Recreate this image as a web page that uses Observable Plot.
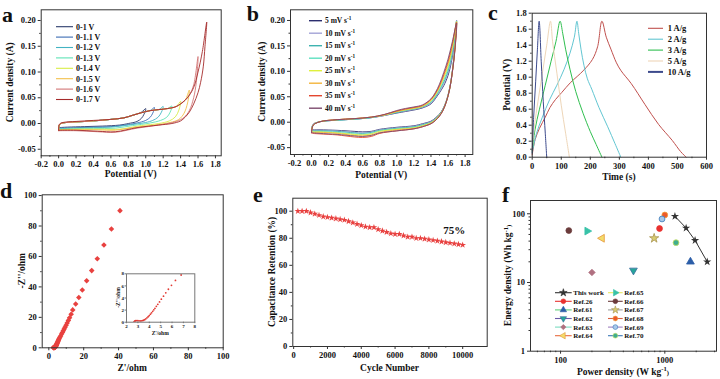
<!DOCTYPE html>
<html><head><meta charset="utf-8">
<script src="https://cdn.jsdelivr.net/npm/d3@7"></script>
<script src="https://cdn.jsdelivr.net/npm/@observablehq/plot@0.6"></script>
<style>
html,body{margin:0;padding:0;background:#fff;}
#root{position:relative;width:720px;height:379px;overflow:hidden;background:#fff;}
</style></head><body><div id="root"></div>
<script>
// ================= DATA =================
// Panel a : CV at different potential windows  [V, A]
const aLabels = ["0-1 V","0-1.1 V","0-1.2 V","0-1.3 V","0-1.4 V","0-1.5 V","0-1.6 V","0-1.7 V"];
const aColors = ["#2b3a6b","#3b6bb3","#43b3c3","#5de3b5","#d8ec45","#f2c04a","#d27575","#a52a2a"];
const aCV10 = [[0,-0.008],[0.01,-0.002],[0.05,0.001],[0.2,0.003],[0.4,0.005],[0.6,0.008],[0.75,0.011],[0.85,0.016],[0.95,0.022],[1.0,0.029],[0.98,0.018],[0.95,0.010],[0.9,0.004],[0.8,0.000],[0.7,-0.003],[0.5,-0.005],[0.3,-0.006],[0.1,-0.007],[0,-0.008]];
const aCV11 = [[0,-0.009],[0.01,-0.002],[0.05,0.001],[0.2,0.003],[0.4,0.005],[0.6,0.008],[0.75,0.011],[0.85,0.016],[0.95,0.021],[1.05,0.025],[1.1,0.031],[1.08,0.020],[1.05,0.012],[1.0,0.006],[0.9,0.001],[0.8,-0.002],[0.6,-0.006],[0.4,-0.007],[0.2,-0.008],[0,-0.009]];
const aCV12 = [[0,-0.010],[0.01,-0.002],[0.05,0.001],[0.2,0.003],[0.4,0.005],[0.6,0.008],[0.75,0.011],[0.85,0.016],[0.95,0.021],[1.05,0.025],[1.15,0.027],[1.2,0.033],[1.18,0.022],[1.14,0.012],[1.08,0.006],[1.0,0.002],[0.8,-0.003],[0.6,-0.007],[0.4,-0.008],[0.2,-0.009],[0,-0.010]];
const aCV13 = [[0,-0.011],[0.01,-0.002],[0.05,0.001],[0.2,0.003],[0.4,0.005],[0.6,0.008],[0.75,0.011],[0.85,0.016],[0.95,0.021],[1.05,0.025],[1.15,0.027],[1.25,0.029],[1.3,0.034],[1.28,0.022],[1.24,0.012],[1.17,0.006],[1.05,0.001],[0.85,-0.004],[0.65,-0.009],[0.4,-0.010],[0.2,-0.010],[0,-0.011]];
const aCV14 = [[0,-0.012],[0.01,-0.002],[0.05,0.001],[0.2,0.003],[0.4,0.005],[0.6,0.008],[0.75,0.011],[0.85,0.016],[0.95,0.021],[1.05,0.025],[1.15,0.027],[1.25,0.029],[1.35,0.033],[1.4,0.043],[1.38,0.026],[1.34,0.013],[1.27,0.005],[1.15,0.000],[0.95,-0.004],[0.7,-0.011],[0.5,-0.011],[0.2,-0.011],[0,-0.012]];
const aCV15 = [[0,-0.013],[0.01,-0.002],[0.05,0.001],[0.2,0.003],[0.4,0.005],[0.6,0.008],[0.75,0.011],[0.85,0.016],[0.95,0.021],[1.05,0.025],[1.15,0.027],[1.25,0.029],[1.35,0.033],[1.45,0.045],[1.5,0.065],[1.48,0.040],[1.44,0.020],[1.38,0.008],[1.28,0.002],[1.1,-0.003],[0.85,-0.008],[0.65,-0.013],[0.4,-0.012],[0.2,-0.012],[0,-0.013]];
const aCV16 = [[0,-0.014],[0.01,-0.002],[0.05,0.001],[0.2,0.003],[0.4,0.005],[0.6,0.008],[0.75,0.011],[0.85,0.016],[0.95,0.021],[1.05,0.025],[1.15,0.027],[1.25,0.029],[1.35,0.033],[1.45,0.045],[1.5,0.055],[1.55,0.075],[1.6,0.130],[1.58,0.080],[1.55,0.050],[1.5,0.025],[1.44,0.012],[1.35,0.004],[1.15,-0.003],[0.9,-0.009],[0.65,-0.017],[0.45,-0.016],[0.2,-0.014],[0,-0.014]];
const aCV17 = [[0,-0.013],[0.01,-0.001],[0.05,0.002],[0.2,0.004],[0.4,0.006],[0.6,0.008],[0.75,0.011],[0.85,0.016],[0.95,0.021],[1.05,0.025],[1.15,0.027],[1.25,0.029],[1.35,0.033],[1.45,0.045],[1.5,0.055],[1.55,0.070],[1.6,0.100],[1.65,0.140],[1.7,0.197],[1.68,0.150],[1.66,0.110],[1.63,0.080],[1.6,0.060],[1.55,0.038],[1.5,0.022],[1.45,0.012],[1.4,0.005],[1.3,0.000],[1.15,-0.003],[0.9,-0.008],[0.65,-0.016],[0.45,-0.015],[0.2,-0.013],[0,-0.013]];
const aCurves = [aCV10,aCV11,aCV12,aCV13,aCV14,aCV15,aCV16,aCV17];
const aXTicks = [-0.2,0,0.2,0.4,0.6,0.8,1.0,1.2,1.4,1.6,1.8];
const aXMinor = [-0.1,0.1,0.3,0.5,0.7,0.9,1.1,1.3,1.5,1.7];
const aYTicks = [-0.05,0,0.05,0.10,0.15,0.20];
const aYMinor = [-0.025,0.025,0.075,0.125,0.175];

// Panel b : CV at different scan rates (shared potential grid, currents per rate)
const bRates = [5,10,15,20,25,30,35,40];
const bColors = ["#2b2d6e","#a3a3d6","#3fb3b0","#5ee0c0","#dff03c","#f3b43a","#e4462e","#7d4b6e"];
const bV = [0,0.02,0.1,0.3,0.5,0.7,0.85,1.0,1.1,1.2,1.3,1.4,1.45,1.5,1.55,1.6,1.65,1.7,1.68,1.65,1.62,1.58,1.54,1.5,1.45,1.4,1.3,1.2,1.0,0.8,0.7,0.6,0.5,0.3,0.1,0.02,0];
const b5  = [-0.014,-0.004,0.001,0.004,0.006,0.009,0.013,0.018,0.021,0.024,0.028,0.036,0.046,0.058,0.072,0.092,0.128,0.200,0.150,0.100,0.068,0.042,0.026,0.016,0.008,0.002,-0.003,-0.007,-0.010,-0.014,-0.018,-0.019,-0.018,-0.016,-0.015,-0.015,-0.014];
const b10 = [-0.015,-0.004,0.001,0.004,0.006,0.009,0.013,0.019,0.022,0.025,0.029,0.037,0.048,0.060,0.076,0.097,0.132,0.200,0.149,0.100,0.068,0.042,0.025,0.015,0.007,0.001,-0.004,-0.008,-0.011,-0.015,-0.019,-0.021,-0.020,-0.017,-0.016,-0.016,-0.015];
const b15 = [-0.016,-0.005,0.001,0.004,0.006,0.009,0.014,0.019,0.023,0.026,0.030,0.039,0.049,0.063,0.079,0.101,0.137,0.199,0.148,0.099,0.067,0.041,0.025,0.015,0.006,0.000,-0.005,-0.009,-0.012,-0.016,-0.020,-0.022,-0.021,-0.018,-0.017,-0.017,-0.016];
const b20 = [-0.017,-0.005,0.001,0.004,0.006,0.009,0.014,0.020,0.024,0.027,0.031,0.040,0.051,0.065,0.083,0.106,0.141,0.198,0.146,0.099,0.067,0.041,0.024,0.014,0.005,-0.001,-0.006,-0.010,-0.013,-0.017,-0.022,-0.024,-0.023,-0.020,-0.018,-0.018,-0.017];
const b25 = [-0.018,-0.005,0.001,0.005,0.007,0.010,0.014,0.021,0.024,0.027,0.031,0.042,0.053,0.068,0.087,0.110,0.145,0.198,0.145,0.099,0.067,0.041,0.024,0.014,0.005,-0.001,-0.007,-0.011,-0.014,-0.018,-0.023,-0.025,-0.024,-0.021,-0.019,-0.019,-0.018];
const b30 = [-0.019,-0.006,0.001,0.005,0.007,0.010,0.014,0.021,0.025,0.028,0.032,0.043,0.055,0.070,0.091,0.115,0.149,0.197,0.143,0.098,0.066,0.040,0.023,0.013,0.004,-0.002,-0.008,-0.012,-0.015,-0.020,-0.025,-0.027,-0.026,-0.022,-0.020,-0.020,-0.019];
const b35 = [-0.021,-0.006,0.001,0.005,0.007,0.010,0.015,0.022,0.026,0.029,0.033,0.045,0.056,0.072,0.094,0.119,0.154,0.196,0.142,0.098,0.066,0.040,0.023,0.012,0.003,-0.003,-0.009,-0.013,-0.017,-0.022,-0.028,-0.030,-0.029,-0.025,-0.023,-0.022,-0.021];
const b40 = [-0.020,-0.006,0.001,0.005,0.007,0.010,0.015,0.023,0.027,0.030,0.034,0.046,0.058,0.075,0.098,0.124,0.158,0.195,0.140,0.098,0.066,0.040,0.023,0.012,0.003,-0.003,-0.009,-0.013,-0.017,-0.021,-0.026,-0.028,-0.027,-0.024,-0.022,-0.021,-0.020];
const bCurves = [b5,b10,b15,b20,b25,b30,b35,b40];

// Panel c : GCD curves [time s, potential V]
const cLabels = ["1 A/g","2 A/g","3 A/g","5 A/g","10 A/g"];
const cColors = ["#c0504d","#62c6d2","#2fbf4f","#eed6b8","#3c4a8c"];
const c1  = [[0,0.03],[10,0.22],[25,0.36],[45,0.5],[61,0.62],[80,0.72],[102,0.81],[131,0.93],[155,1.01],[178,1.09],[207,1.22],[225,1.38],[240,1.7],[255,1.5],[271,1.35],[290,1.18],[306,1.08],[341,0.92],[388,0.66],[435,0.41],[482,0.21],[511,0.07],[530,0]];
const c2  = [[0,0.06],[15,0.3],[35,0.5],[60,0.72],[85,0.9],[110,1.1],[130,1.3],[145,1.5],[154,1.7],[160,1.55],[168,1.35],[178,1.15],[190,0.98],[205,0.85],[230,0.62],[260,0.38],[285,0.17],[305,0]];
const c3  = [[0,0.08],[10,0.35],[25,0.6],[45,0.9],[65,1.2],[82,1.45],[96,1.7],[105,1.55],[115,1.35],[130,1.1],[150,0.82],[175,0.55],[200,0.32],[220,0.16],[240,0]];
const c5  = [[0,0.1],[8,0.4],[20,0.7],[35,1.05],[50,1.4],[63,1.7],[70,1.45],[85,1.05],[100,0.65],[115,0.3],[128,0]];
const c10 = [[0,0.05],[5,0.5],[12,0.95],[18,1.35],[24,1.7],[31,1.2],[38,0.7],[45,0.3],[50,0]];
const cCurves = [c1,c2,c3,c5,c10];

// Panel d : Nyquist plot
const dZre = [2.65,2.7,2.75,2.8,2.9,3.0,3.1,3.2,3.3,3.4,3.5,3.6,3.7,3.8,3.9,4.0,4.1,4.2,4.3,4.4,4.5,4.62,4.75,4.9,5.06,5.25,5.45,5.68,5.95,6.3,6.8,7.3,7.8,8.3,8.8,9.3,9.9,10.5,11.2,11.9,12.8,13.7,15.4,17.2,19.2,21.7,24.6,27.8,31.6,35.9,40.8];
const dZim = [0.05,0.15,0.2,0.24,0.26,0.25,0.22,0.2,0.21,0.25,0.32,0.42,0.56,0.72,0.9,1.1,1.32,1.55,1.8,2.05,2.3,2.62,2.95,3.35,3.8,4.3,4.85,5.45,6.1,6.9,7.8,9.0,10.1,11.2,12.3,13.5,14.8,16.3,18.0,19.8,22.0,24.9,28.8,33.0,38.0,44.0,50.7,58.5,67.5,78.0,90.1];

// Panel e : cycling stability
const eCycle = [250,500,750,1000,1250,1500,1750,2000,2250,2500,2750,3000,3250,3500,3750,4000,4250,4500,4750,5000,5250,5500,5750,6000,6250,6500,6750,7000,7250,7500,7750,8000,8250,8500,8750,9000,9250,9500,9750,10000];
const eRet = [100,100,100,99,98,97,96,95.5,95,94.5,94,93.5,92.5,91.5,90.5,89.5,88.5,88,88,86.5,85.5,84.5,83.5,83,83,82,81,81,80,80,79.5,79,78.5,78,77.5,77,76.5,76,75.5,75];

// Panel f : Ragone plot
const thisPower = [1250,1600,1950,2550];
const thisEnergy = [92,62,41,20];
const fRefs   = ["Ref.26","Ref.61","Ref.62","Ref.63","Ref.64","Ref.65","Ref.66","Ref.67","Ref.68","Ref.69","Ref.70"];
const fPower  = [890,1760,500,200,250,180,120,790,1000,940,1280];
const fEnergy = [61,20,15,14,44,56,57,44,96,84,38];
const fSymbol = ["circle","triangle","triangle","diamond2","triangle","triangle","circle","star","circle","circle","circle"];
const fRotate = [0,0,180,0,-90,90,0,0,0,0,0];
const fFill   = ["#e8312f","#2c5ea8","#26a69a","#b07080","#f3dc6a","#38c2a8","#6b3b3b","#d8cc70","#ec5a2a","#a9c9ea","#3fae8e"];
const fStroke = ["#e8312f","#2c5ea8","#3d6fa0","#b07080","#e6953c","#38c2a8","#6b3b3b","#a89450","#f2a03a","#3a78b8","#c4dc5a"];
const fLine   = ["#e8312f","#5fd07a","#6a5aa8","#7adcc0","#e86a40","#e8e860","#6b3b3b","#a0a0a0","#d86040","#a080c0","#3a78b8"];

// ================= RENDER =================
const FONT = "'Liberation Serif','Times New Roman',serif";
const root = document.getElementById("root");
function mount(svg, left, top) {
  svg.style.position = "absolute";
  svg.style.left = left + "px";
  svg.style.top = top + "px";
  svg.style.maxWidth = "none";
  root.appendChild(svg);
}
const baseStyle = {fontFamily: FONT, fontWeight: "bold", fontSize: "8.5px", color: "#111", background: "transparent", overflow: "visible"};

function axes({xt, xm, yt, ym, xf, yf, tick = 3, pad = 2.5, minor = 1.5, frameColor = "#333"}) {
  const m = [
    Plot.frame({stroke: frameColor, strokeWidth: 1}),
    Plot.axisX(xt, {tickSize: tick, tickPadding: pad, tickFormat: xf, label: null, stroke: frameColor}),
    Plot.axisY(yt, {tickSize: tick, tickPadding: pad, tickFormat: yf, label: null, stroke: frameColor})
  ];
  if (xm) m.push(Plot.axisX(xm, {tickSize: minor, fill: "none", label: null, stroke: frameColor}));
  if (ym) m.push(Plot.axisY(ym, {tickSize: minor, fill: "none", label: null, stroke: frameColor}));
  return m;
}

// ---- Panel a ----
const aTable = aCurves.flatMap((pts, k) => pts.map(([v, i]) => ({V: v, I: i, s: aLabels[k]})));
mount(Plot.plot({
  width: 240, height: 185, marginLeft: 40.7, marginRight: 19.3, marginTop: 9.3, marginBottom: 29.7,
  style: baseStyle,
  x: {domain: [-0.2, 1.866]}, y: {domain: [-0.0627, 0.2208]},
  color: {domain: aLabels, range: aColors},
  marks: [
    Plot.line(aTable, {x: "V", y: "I", z: "s", stroke: "s", strokeWidth: 0.9, curve: "catmull-rom"}),
    ...axes({xt: aXTicks, xm: aXMinor, yt: aYTicks, ym: aYMinor, xf: d => d.toFixed(1), yf: d => d.toFixed(2)})
  ]
}), 0, 0);

// ---- Panel b ----
const bLabels = bRates.map(r => r + " mV/s");
const bTable = bCurves.flatMap((vals, k) => vals.map((I, j) => ({V: bV[j], I, s: bLabels[k]})));
mount(Plot.plot({
  width: 240, height: 185, marginLeft: 50, marginRight: 7.7, marginTop: 9.3, marginBottom: 31,
  style: baseStyle,
  x: {domain: [-0.246, 1.89]}, y: {domain: [-0.0635, 0.221]},
  color: {domain: bLabels, range: bColors},
  marks: [
    Plot.line(bTable, {x: "V", y: "I", z: "s", stroke: "s", strokeWidth: 0.9, curve: "catmull-rom"}),
    ...axes({xt: aXTicks, xm: aXMinor, yt: aYTicks, ym: aYMinor, xf: d => d.toFixed(1), yf: d => d.toFixed(2)})
  ]
}), 240, 0);

// ---- Panel c ----
const cTable = cCurves.flatMap((pts, k) => pts.map(([t, v]) => ({t, v, s: cLabels[k]})));
mount(Plot.plot({
  width: 240, height: 185, marginLeft: 51.7, marginRight: 14, marginTop: 12.7, marginBottom: 28.3,
  style: baseStyle,
  x: {domain: [0, 600]}, y: {domain: [0, 1.8]},
  color: {domain: cLabels, range: cColors},
  marks: [
    Plot.line(cTable, {x: "t", y: "v", z: "s", stroke: "s", strokeWidth: 1, curve: "catmull-rom"}),
    ...axes({xt: [0,100,200,300,400,500,600], xm: [50,150,250,350,450,550], yt: [0,0.2,0.4,0.6,0.8,1.0,1.2,1.4,1.6,1.8], ym: [0.1,0.3,0.5,0.7,0.9,1.1,1.3,1.5,1.7],
      xf: d => String(d), yf: d => d.toFixed(1)})
  ]
}), 480, 0);

// ---- Panel d ----
const dTable = dZre.map((x, i) => ({x, y: dZim[i]}));
mount(Plot.plot({
  width: 240, height: 194, marginLeft: 41.7, marginRight: 17.3, marginTop: 9.3, marginBottom: 31.7,
  style: baseStyle,
  x: {domain: [-3.8, 100]}, y: {domain: [0, 100.5]},
  marks: [
    Plot.dot(dTable, {x: "x", y: "y", symbol: "diamond2", r: 2.5, fill: "#e8413f", stroke: "none"}),
    ...axes({xt: [0,20,40,60,80,100], xm: [10,30,50,70,90], yt: [0,20,40,60,80,100], ym: [10,30,50,70,90],
      xf: d => String(d), yf: d => String(d)})
  ]
}), 0, 185);

// inset
mount(Plot.plot({
  width: 100, height: 74, marginLeft: 26, marginRight: 5.7, marginTop: 7.3, marginBottom: 18.3,
  style: {...baseStyle, fontSize: "5px"},
  x: {domain: [2, 8]}, y: {domain: [0, 8]},
  marks: [
    Plot.frame({fill: "white", stroke: "none"}),
    Plot.dot(dTable, {x: "x", y: "y", r: 0.9, fill: "#e23b34", stroke: "none", clip: true}),
    ...axes({xt: [2,3,4,5,6,7,8], yt: [0,2,4,6,8], xf: d => String(d), yf: d => String(d),
      tick: 1.5, pad: 1, frameColor: "#777"})
  ]
}), 100, 266);

// ---- Panel e ----
const eTable = eCycle.map((c, i) => ({c, r: eRet[i]}));
mount(Plot.plot({
  width: 250, height: 194, marginLeft: 52.3, marginRight: 3.3, marginTop: 12.7, marginBottom: 33,
  style: baseStyle,
  x: {domain: [-50, 11450]}, y: {domain: [0, 109.6]},
  marks: [
    Plot.dot(eTable, {x: "c", y: "r", symbol: "star", r: 2.1, fill: "#e8403f", stroke: "none"}),
    Plot.text([eTable[eTable.length - 1]], {x: "c", y: "r", text: d => d.r + "%", dy: -14.5, dx: -8.5, fontSize: 11}),
    ...axes({xt: [0,2000,4000,6000,8000,10000], xm: [1000,3000,5000,7000,9000], yt: [0,20,40,60,80,100], ym: [10,30,50,70,90],
      xf: d => String(d), yf: d => String(d)})
  ]
}), 240, 185);

// ---- Panel f ----
const fTable = fRefs.map((name, i) => ({name, p: fPower[i], e: fEnergy[i], sym: fSymbol[i], rot: fRotate[i], fill: fFill[i], stroke: fStroke[i]}));
const thisTable = thisPower.map((p, i) => ({p, e: thisEnergy[i]}));
mount(Plot.plot({
  width: 230, height: 194, marginLeft: 40, marginRight: 4, marginTop: 15, marginBottom: 28.3,
  style: baseStyle,
  x: {type: "log", domain: [51.5, 3130]}, y: {type: "log", domain: [1, 156]},
  marks: [
    Plot.line(thisTable, {x: "p", y: "e", stroke: "#333", strokeWidth: 1}),
    Plot.dot(thisTable, {x: "p", y: "e", symbol: "star", r: 2.6, fill: "#333", stroke: "none"}),
    Plot.dot(fTable, {x: "p", y: "e", symbol: "sym", rotate: "rot", r: 2.9,
      fill: {value: "fill", scale: null}, stroke: {value: "stroke", scale: null}, strokeWidth: 0.8}),
    ...axes({xt: [100,1000], xm: [60,70,80,90,200,300,400,500,600,700,800,900,2000,3000],
      yt: [1,10,100], ym: [2,3,4,5,6,7,8,9,20,30,40,50,60,70,80,90],
      xf: d => String(d), yf: d => String(d)})
  ]
}), 490, 185);

// ---- overlay: panel letters, axis titles and legends ----
const ov = d3.create("svg").attr("width", 720).attr("height", 379)
  .style("position", "absolute").style("left", "0px").style("top", "0px")
  .style("font-family", FONT).style("font-weight", "bold").style("pointer-events", "none");
[["a", 2, 21.7], ["b", 246.7, 20.5], ["c", 488, 20], ["d", 0, 198.3], ["e", 253, 201.7], ["f", 502, 201.7]]
  .forEach(([t, x, y]) => ov.append("text").attr("x", x).attr("y", y).attr("font-size", 22).attr("fill", "#111").text(t));

function title(parts, x, y, rot, fs) {
  const t = ov.append("text").attr("text-anchor", "middle").attr("dominant-baseline", "central")
    .attr("font-size", fs).attr("fill", "#111")
    .attr("transform", `translate(${x},${y}) rotate(${rot})`);
  parts.forEach(p => {
    if (typeof p === "string") t.append("tspan").text(p);
    else t.append("tspan").attr("font-size", fs * 0.7).attr("dy", p.dy + "em").text(p.t);
  });
}
title(["Potential (V)"], 130.7, 174, 0, 9.5);
title(["Current density (A)"], 10, 82.3, -90, 9.5);
title(["Potential (V)"], 381.2, 174.5, 0, 9.5);
title(["Current density (A)"], 261.7, 81.7, -90, 9.5);
title(["Time (s)"], 618.9, 177, 0, 9.5);
title(["Potential (V)"], 506.7, 84.7, -90, 9.5);
title(["Z'/ohm"], 132.2, 368, 0, 9.5);
title(["-Z''/ohm"], 21.7, 270.8, -90, 9.5);
title(["Z'/ohm"], 160.2, 333, 0, 5.5);
title(["-Z''/ohm"], 117.5, 297.5, -90, 5.5);
title(["Cycle Number"], 389.5, 368, 0, 9.5);
title(["Capacitance Retention (%)"], 271.7, 271.9, -90, 9.5);
title(["Power density (W kg", {t: "-1", dy: -0.55}, {t: ")", dy: 0.55}], 623, 371.5, 0, 9.5);
title(["Energy density (Wh kg", {t: "-1", dy: -0.55}, {t: ")", dy: 0.55}], 508.3, 275.4, -90, 9.5);

const symMap = {circle: d3.symbolCircle, triangle: d3.symbolTriangle, diamond2: d3.symbolDiamond2, star: d3.symbolStar};
function legend(items, {x, y0, dy, w, gap, fs}) {
  items.forEach((it, i) => {
    const y = y0 + i * dy;
    ov.append("line").attr("x1", x).attr("x2", x + w).attr("y1", y).attr("y2", y)
      .attr("stroke", it.line).attr("stroke-width", it.lw || 1.1);
    if (it.sym) ov.append("path").attr("d", d3.symbol(symMap[it.sym], Math.PI * 2.4 * 2.4)())
      .attr("transform", `translate(${x + w / 2},${y}) rotate(${it.rot || 0})`)
      .attr("fill", it.fill).attr("stroke", it.stroke).attr("stroke-width", 0.6);
    const t = ov.append("text").attr("x", x + w + gap).attr("y", y).attr("dy", "0.35em").attr("font-size", fs).attr("fill", "#111").text(it.label);
    if (it.sup) t.append("tspan").attr("dy", "-0.6em").attr("font-size", fs * 0.7).text(it.sup);
  });
}
legend(aLabels.map((l, i) => ({label: l, line: aColors[i]})), {x: 56, y0: 26.7, dy: 10.4, w: 17, gap: 3, fs: 8});
legend(bRates.map((r, i) => ({label: r + " mV s", sup: "-1", line: bColors[i], lw: 1.4})), {x: 309, y0: 20.7, dy: 12.5, w: 13, gap: 3, fs: 7.5});
legend(cLabels.map((l, i) => ({label: l, line: cColors[i], lw: i === 4 ? 2 : 1.1})), {x: 648, y0: 28.3, dy: 10.9, w: 15, gap: 4.7, fs: 8.5});
const fItems = [{label: "This work", line: "#333", sym: "star", fill: "#333", stroke: "#333"}]
  .concat(fRefs.map((r, i) => ({label: r, line: fLine[i], sym: fSymbol[i], rot: fRotate[i], fill: fFill[i], stroke: fStroke[i]})));
legend(fItems.slice(0, 6), {x: 555, y0: 292.7, dy: 8.6, w: 16.7, gap: 1.6, fs: 7});
legend(fItems.slice(6), {x: 608, y0: 292.7, dy: 8.6, w: 14.7, gap: 1.6, fs: 7});
root.appendChild(ov.node());
</script></body></html>
